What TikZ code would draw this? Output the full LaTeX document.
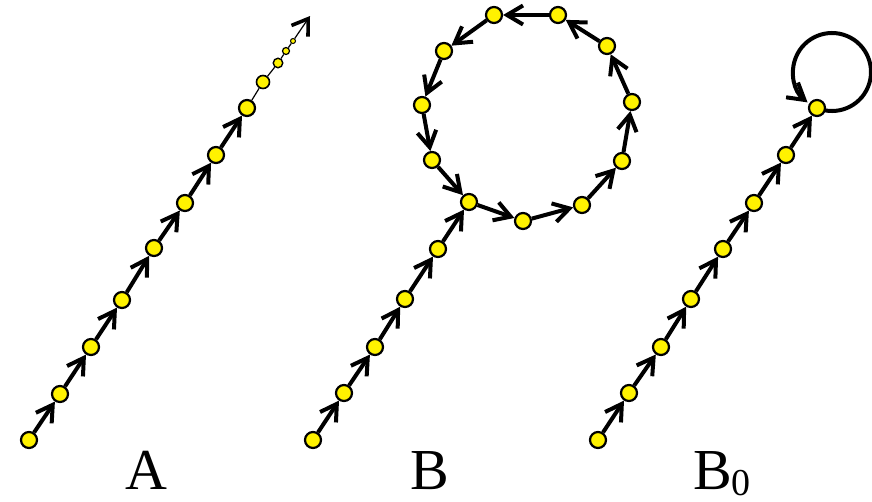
\documentclass[tikz,border=0pt]{standalone}
\usepackage{fontspec}
\setmainfont{Liberation Serif}
\usetikzlibrary{arrows.meta,backgrounds}
\tikzset{
  % yellow vertex of a path
  dot/.style={circle,draw=black,fill=yellow,line width=2.2pt,
    inner sep=0pt,minimum size=16pt},
  % smaller vertices fading to infinity
  small dot/.style={circle,draw=black,fill=yellow,line width=#1,
    inner sep=0pt},
  % arrow between two vertices
  step edge/.style={draw=black,line width=4pt,
    -{Straight Barb[length=16pt,width=19pt]}},
  name label/.style={font=\fontsize{58}{60}\selectfont,anchor=base,inner sep=0pt},
}

\begin{document}
\begin{tikzpicture}[x=1pt,y=-1pt]
    \useasboundingbox (0,0) rectangle (872,501);
    % A: a path going off to infinity
    \node[dot] (a1) at (29,440) {};
    \node[dot] (a2) at (60,394) {};
    \node[dot] (a3) at (91,347) {};
    \node[dot] (a4) at (122,300) {};
    \node[dot] (a5) at (154,248) {};
    \node[dot] (a6) at (185,203) {};
    \node[dot] (a7) at (216,155) {};
    \node[dot] (a8) at (247,108) {};
    \node[small dot=1.6pt,minimum size=13pt] (a9) at (263,82) {};
    \node[small dot=1.4pt,minimum size=9.5pt] (a10) at (278,63) {};
    \node[small dot=1.2pt,minimum size=7pt] (a11) at (286,51) {};
    \node[small dot=1pt,minimum size=5pt] (a12) at (293,41) {};
    \coordinate (ainf) at (310,16);
    \node[name label] (labA) at (146,489) {A};

    % B: a path ending in a cycle
    \node[dot] (b1) at (313,440) {};
    \node[dot] (b2) at (344,393) {};
    \node[dot] (b3) at (375,347) {};
    \node[dot] (b4) at (405,299) {};
    \node[dot] (b5) at (438,249) {};
    \node[dot] (b6) at (469,202) {};
    \node[dot] (b7) at (523,221) {};
    \node[dot] (b8) at (582,205) {};
    \node[dot] (b9) at (622,161) {};
    \node[dot] (b10) at (632,102) {};
    \node[dot] (b11) at (607,46) {};
    \node[dot] (b12) at (558,15) {};
    \node[dot] (b13) at (494,15) {};
    \node[dot] (b14) at (444,51) {};
    \node[dot] (b15) at (422,105) {};
    \node[dot] (b16) at (432,160) {};
    \node[name label] (labB) at (430,489) {B};

    % B0: a path ending in a fixed point
    \node[dot] (c1) at (598,440) {};
    \node[dot] (c2) at (629,393) {};
    \node[dot] (c3) at (661,347) {};
    \node[dot] (c4) at (691,299) {};
    \node[dot] (c5) at (723,249) {};
    \node[dot] (c6) at (754,203) {};
    \node[dot] (c7) at (786,155) {};
    \node[dot] (c8) at (817,108) {};
    \node[name label,anchor=base west] (labC) at (693,489)
      {B\raisebox{-6pt}{\fontsize{38}{40}\selectfont 0}};

    \begin{scope}[on background layer]
    \draw[step edge] (a1) -- (a2);
    \draw[step edge] (a2) -- (a3);
    \draw[step edge] (a3) -- (a4);
    \draw[step edge] (a4) -- (a5);
    \draw[step edge] (a5) -- (a6);
    \draw[step edge] (a6) -- (a7);
    \draw[step edge] (a7) -- (a8);
    \draw[line width=1.2pt] (a8) -- (a9) -- (a10) -- (a11) -- (a12);
    \draw[line width=1.2pt,-{Straight Barb[length=15pt,width=20pt,line width=3.6pt]}] (a12) -- (ainf);

    \draw[step edge] (b1) -- (b2);
    \draw[step edge] (b2) -- (b3);
    \draw[step edge] (b3) -- (b4);
    \draw[step edge] (b4) -- (b5);
    \draw[step edge] (b5) -- (b6);
    \draw[step edge] (b6) -- (b7);
    \draw[step edge] (b7) -- (b8);
    \draw[step edge] (b8) -- (b9);
    \draw[step edge] (b9) -- (b10);
    \draw[step edge] (b10) -- (b11);
    \draw[step edge] (b11) -- (b12);
    \draw[step edge] (b12) -- (b13);
    \draw[step edge] (b13) -- (b14);
    \draw[step edge] (b14) -- (b15);
    \draw[step edge] (b15) -- (b16);
    \draw[step edge] (b16) -- (b6);

    \draw[step edge] (c1) -- (c2);
    \draw[step edge] (c2) -- (c3);
    \draw[step edge] (c3) -- (c4);
    \draw[step edge] (c4) -- (c5);
    \draw[step edge] (c5) -- (c6);
    \draw[step edge] (c6) -- (c7);
    \draw[step edge] (c7) -- (c8);
    \draw[step edge] (c8.center) arc[start angle=112.6,end angle=-231.2,radius=39];
    \end{scope}
\end{tikzpicture}
\end{document}
